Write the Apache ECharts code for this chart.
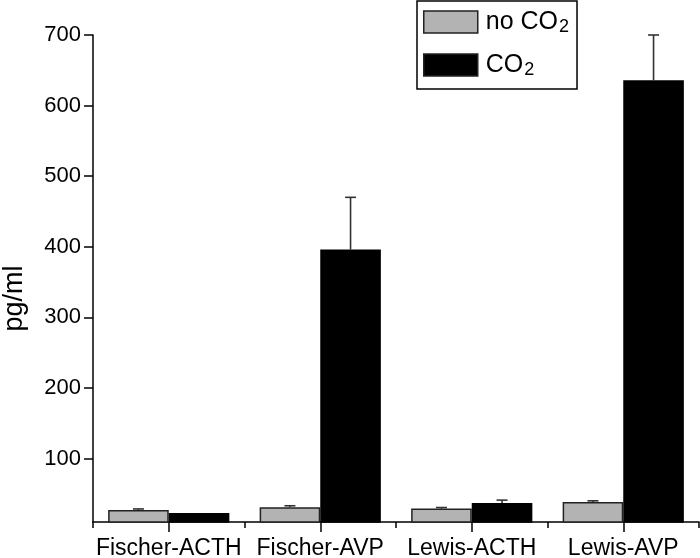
<!DOCTYPE html>
<html>
<head>
<meta charset="utf-8">
<script src="https://cdn.jsdelivr.net/npm/echarts@6/dist/echarts.min.js"></script>
<style>html,body{margin:0;padding:0;background:#fff}#c{width:700px;height:558px}</style>
</head>
<body>
<div id="c"></div>
<script>
const categories = ['Fischer-ACTH', 'Fischer-AVP', 'Lewis-ACTH', 'Lewis-AVP'];
const seriesNames = ['no CO2', 'CO2'];
const noCO2 = [27, 31, 29, 38.5];
const noCO2Err = [1.5, 2, 1.5, 1.5];
const withCO2 = [22.8, 396, 37, 636];
const withCO2Err = [0, 74, 4, 64];
const yTicks = [100, 200, 300, 400, 500, 600, 700];

const FONT = '"Liberation Sans", Arial, Helvetica, sans-serif';
const chart = echarts.init(document.getElementById('c'), null, {renderer: 'canvas'});

function errSeries(vals, errs, sign) {
  return {
    type: 'custom',
    xAxisIndex: 0, yAxisIndex: 0,
    z: 5,
    silent: true,
    data: vals.map((v, i) => [i, v, errs[i]]),
    renderItem: function (params, api) {
      const idx = api.value(0), v = api.value(1), e = api.value(2);
      if (!e) return null;
      const band = api.size([1, 0])[0];
      const p0 = api.coord([idx, v]);
      const p1 = api.coord([idx, v + e]);
      const x = p0[0] + sign * band * 0.2;
      const style = {stroke: '#333', lineWidth: 1.6};
      return {
        type: 'group',
        children: [
          {type: 'line', shape: {x1: x, y1: p0[1], x2: x, y2: p1[1]}, style: style},
          {type: 'line', shape: {x1: x - 5.5, y1: p1[1], x2: x + 5.5, y2: p1[1]}, style: style}
        ]
      };
    }
  };
}

const legendFmt = name => name === 'no CO2' ? '{m|no CO}{s|2}' : '{m|CO}{s|2}';

chart.setOption({
  animation: false,
  backgroundColor: '#fff',
  grid: {left: 93, right: 1, top: 35, bottom: 36, containLabel: false, outerBoundsMode: 'none'},
  legend: {
    data: seriesNames,
    orient: 'vertical',
    left: 417, top: 1,
    padding: [7, 8, 10, 6],
    itemGap: 15,
    itemWidth: 54, itemHeight: 22,
    borderColor: '#000', borderWidth: 1.5,
    backgroundColor: '#fff',
    icon: 'rect',
    itemStyle: {borderColor: '#222', borderWidth: 1.5},
    formatter: legendFmt,
    textStyle: {
      color: '#000', fontFamily: FONT, padding: [0, 0, 0, 3],
      rich: {
        m: {fontSize: 25, fontFamily: FONT, color: '#000', lineHeight: 22},
        s: {fontSize: 18, fontFamily: FONT, color: '#000', lineHeight: 22, padding: [10, 0, 0, 1]}
      }
    }
  },
  xAxis: [
    {
      type: 'category', data: categories, position: 'bottom',
      axisLine: {lineStyle: {color: '#000', width: 1.5}},
      axisTick: {show: true, length: 6, lineStyle: {color: '#000', width: 1.5}},
      axisLabel: {color: '#000', fontSize: 23, fontFamily: FONT, margin: 15, interval: 0},
      splitLine: {show: false}
    },
    {
      type: 'category', data: categories, position: 'bottom',
      axisLine: {show: false},
      axisTick: {show: true, alignWithLabel: true, length: 10, lineStyle: {color: '#000', width: 1.5}},
      axisLabel: {show: false},
      splitLine: {show: false}
    }
  ],
  yAxis: {
    type: 'value', min: 10, max: 700,
    name: 'pg/ml', nameLocation: 'middle', nameRotate: 90, nameGap: 65,
    nameTextStyle: {color: '#000', fontSize: 27, fontFamily: FONT, padding: [0, 40, 0, 0]},
    axisLine: {show: true, lineStyle: {color: '#000', width: 1.5}},
    axisTick: {show: true, length: 9, customValues: yTicks, lineStyle: {color: '#000', width: 1.5}},
    axisLabel: {color: '#000', fontSize: 22, fontFamily: FONT, margin: 12, customValues: yTicks},
    splitLine: {show: false}
  },
  series: [
    {
      name: seriesNames[0], type: 'bar', data: noCO2,
      barGap: '0%', barCategoryGap: '20%',
      itemStyle: {color: '#b3b3b3', borderColor: '#222', borderWidth: 1.5}
    },
    {
      name: seriesNames[1], type: 'bar', data: withCO2,
      barGap: '0%', barCategoryGap: '20%',
      itemStyle: {color: '#000', borderColor: '#000', borderWidth: 1.5}
    },
    errSeries(noCO2, noCO2Err, -1),
    errSeries(withCO2, withCO2Err, 1)
  ]
});
</script>
</body>
</html>
